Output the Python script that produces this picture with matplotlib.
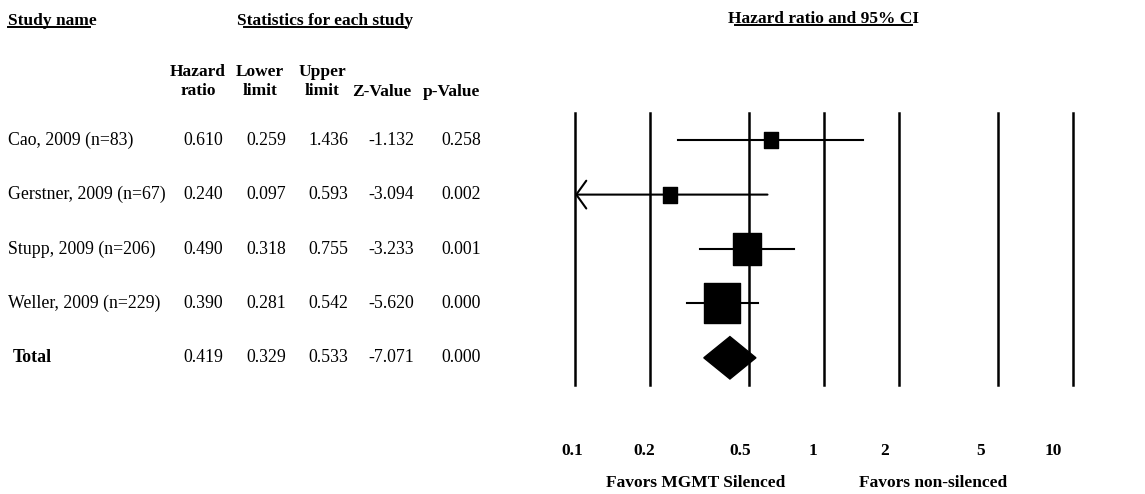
import math
import matplotlib
matplotlib.use("Agg")
import matplotlib.pyplot as plt
import matplotlib.transforms as mtransforms
from matplotlib.lines import Line2D
from matplotlib.path import Path
from matplotlib.patches import Polygon

plt.rcParams["font.family"] = ["Liberation Serif", "DejaVu Serif"]

# data
studies = ["Cao, 2009 (n=83)", "Gerstner, 2009 (n=67)", "Stupp, 2009 (n=206)", "Weller, 2009 (n=229)"]
hazard = [0.610, 0.240, 0.490, 0.390]
lower = [0.259, 0.097, 0.318, 0.281]
upper = [1.436, 0.593, 0.755, 0.542]
zvals = [-1.132, -3.094, -3.233, -5.620]
pvals = [0.258, 0.002, 0.001, 0.000]

total_label = "Total"
total_hr, total_lo, total_hi, total_z, total_p = 0.419, 0.329, 0.533, -7.071, 0.000

ticks = [0.1, 0.2, 0.5, 1, 2, 5, 10]
tick_labels = ["0.1", "0.2", "0.5", "1", "2", "5", "10"]
col_headers = ["Hazard\nratio", "Lower\nlimit", "Upper\nlimit", "Z-Value", "p-Value"]

# style: box sizes (points) for each study square
box_sizes = [11, 11, 23, 29]

W, H = 1145, 494
fig = plt.figure(figsize=(W / 100, H / 100), dpi=100)
ax = fig.add_axes([575 / W, 1 - 385 / H, 498 / W, 272 / H])
ax.set_xscale("log")
ax.set_xlim(0.1, 10)
ax.set_ylim(4.5, -0.5)
for s in ax.spines.values():
    s.set_visible(False)
ax.set_yticks([])
ax.set_xticks([])
ax.minorticks_off()

for t in ticks:
    ax.axvline(t, color="black", lw=1.8, clip_on=False, zorder=1)

# tick labels sit a little left of their lines in the original, more so to the right
lx0, lx1 = [math.log10(v) for v in ax.get_xlim()]
lab_tr = mtransforms.blended_transform_factory(ax.transAxes, ax.transData)
for t, lab in zip(ticks, tick_labels):
    frac = (math.log10(t) - lx0) / (lx1 - lx0)
    ax.text(frac * 0.966 - 0.006, 5.72, lab, transform=lab_tr, ha="center", va="center",
            fontsize=12.5, fontweight="bold", clip_on=False)

# squares slightly taller than wide, as in the original
box = Path([(-0.9, -1), (0.9, -1), (0.9, 1), (-0.9, 1), (-0.9, -1)],
           [Path.MOVETO, Path.LINETO, Path.LINETO, Path.LINETO, Path.CLOSEPOLY])

xmin = ax.get_xlim()[0]
for i in range(len(studies)):
    if lower[i] < xmin:
        ax.annotate("", xy=(xmin, i), xytext=(upper[i], i),
                    arrowprops=dict(arrowstyle="->,head_length=0.36,head_width=0.5",
                                    lw=1.5, color="black", shrinkA=0, shrinkB=0,
                                    mutation_scale=20),
                    zorder=2)
    else:
        ax.plot([lower[i], upper[i]], [i, i], color="black", lw=1.5, zorder=2)
    ax.plot(hazard[i], i, marker=box, markersize=box_sizes[i], color="black", zorder=3)

ty = len(studies)
dh = 0.39
ax.add_patch(Polygon([(total_lo, ty), (total_hr, ty - dh), (total_hi, ty), (total_hr, ty + dh)],
                     closed=True, facecolor="black", edgecolor="black", zorder=3))

# table on the left, rows share the axes y scale
trans = mtransforms.blended_transform_factory(fig.transFigure, ax.transData)
col_x = [203, 266, 328, 391, 461]
head_x = [198, 260, 322, 382, 451]
fs = 12.8

def fmt(v):
    return f"{v:.3f}"

for i, name in enumerate(studies):
    ax.text(8 / W, i, name, transform=trans, ha="left", va="center", fontsize=fs)
    for x, v in zip(col_x, [hazard[i], lower[i], upper[i], zvals[i], pvals[i]]):
        ax.text(x / W, i, fmt(v), transform=trans, ha="center", va="center", fontsize=fs)

ax.text(13 / W, ty, total_label, transform=trans, ha="left", va="center",
        fontsize=fs, fontweight="bold")
for x, v in zip(col_x, [total_hr, total_lo, total_hi, total_z, total_p]):
    ax.text(x / W, ty, fmt(v), transform=trans, ha="center", va="center", fontsize=fs)

for x, h in zip(head_x, col_headers):
    yy = -1.08 if "\n" in h else -0.88
    ax.text(x / W, yy, h, transform=trans, ha="center", va="center",
            multialignment="center", fontsize=12.5, fontweight="bold", linespacing=1.3)

titles = [
    ax.text(8 / W, -2.19, "Study name", transform=trans, ha="left", va="center",
            fontsize=12.5, fontweight="bold"),
    ax.text(325 / W, -2.19, "Statistics for each study", transform=trans, ha="center",
            va="center", fontsize=12.5, fontweight="bold"),
    ax.text(823 / W, -2.23, "Hazard ratio and 95% CI", transform=trans, ha="center",
            va="center", fontsize=12.5, fontweight="bold"),
]

ax.text(0.243, 6.30, "Favors MGMT Silenced", transform=lab_tr,
        ha="center", va="center", fontsize=12.5, fontweight="bold", clip_on=False)
ax.text(0.719, 6.30, "Favors non-silenced", transform=lab_tr,
        ha="center", va="center", fontsize=12.5, fontweight="bold", clip_on=False)

# underline the section titles
fig.canvas.draw()
r = fig.canvas.get_renderer()
for k, t in enumerate(titles):
    bb = t.get_window_extent(r)
    x0 = bb.x0 + (0 if k == 0 else 7)
    x1 = bb.x1 - 7
    y = bb.y0 + 2
    fig.add_artist(Line2D([x0 / W, x1 / W], [y / H, y / H], transform=fig.transFigure,
                          color="black", lw=1.4))

fig.savefig("out.png", dpi=100)
